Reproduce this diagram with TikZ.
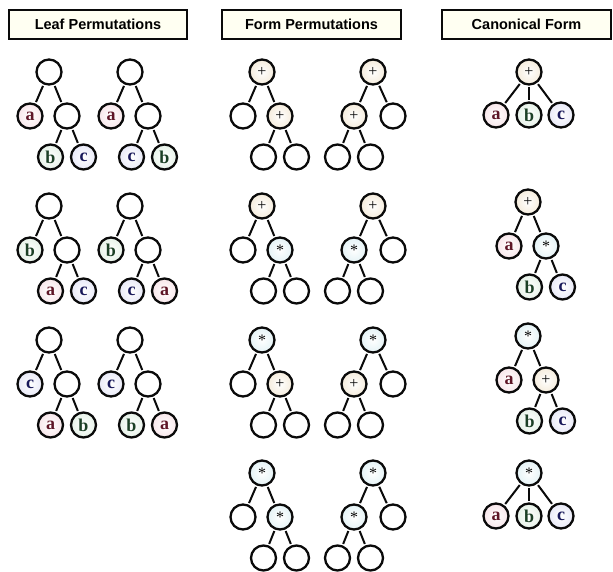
\documentclass[tikz,border=0pt]{standalone}
\usepackage{fontspec}
\setmainfont{Liberation Serif}
\newfontfamily\headfont{Liberation Sans}
\usetikzlibrary{calc}
\definecolor{ink}{HTML}{0A0A0A}
\definecolor{acol}{HTML}{5E1526}
\definecolor{bcol}{HTML}{1C4026}
\definecolor{ccol}{HTML}{18185A}
\definecolor{atint}{HTML}{F8E6EA}
\definecolor{btint}{HTML}{E6F2E8}
\definecolor{ctint}{HTML}{E8E9F8}
\definecolor{ptint}{HTML}{F5ECDC}
\definecolor{stint}{HTML}{E4F3F6}
\definecolor{headfill}{HTML}{FFFFF2}
\tikzset{
  header/.style={draw=ink, line width=2pt, fill=headfill, minimum height=29pt,
    inner sep=0pt, font=\headfont\bfseries\fontsize{14.5}{16}\selectfont},
  nd/.style={circle, draw=ink, line width=2.3pt, minimum size=25pt, inner sep=0pt,
    shading=radial, inner color=white},
  en/.style={nd, outer color=white, node contents={}},
  va/.style={nd, outer color=atint, text=acol, font=\bfseries\fontsize{18}{18}\selectfont, node contents=a},
  vb/.style={nd, outer color=btint, text=bcol, font=\bfseries\fontsize{18}{18}\selectfont, node contents=b},
  vc/.style={nd, outer color=ctint, text=ccol, font=\bfseries\fontsize{18}{18}\selectfont, node contents=c},
  op/.style={nd, outer color=ptint, text=ink, font=\fontsize{16}{16}\selectfont, node contents=+},
  os/.style={nd, outer color=stint, text=ink, font=\fontsize{16}{16}\selectfont, node contents=*},
  edge/.style={draw=ink, line width=2pt, shorten <=1.5pt, shorten >=1.5pt},
}
% binary tree whose right child branches: prefix, root x, root y, five node styles
\newcommand\TreeRight[8]{%
  \node (#1r) at (#2,#3) [#4];
  \node (#1l) at (#2-19,#3+44) [#5];
  \node (#1m) at (#2+18,#3+44) [#6];
  \node (#1p) at (#2+1.5,#3+85) [#7];
  \node (#1q) at (#2+34.5,#3+85) [#8];
  \draw[edge] (#1r) -- (#1l);
  \draw[edge] (#1r) -- (#1m);
  \draw[edge] (#1m) -- (#1p);
  \draw[edge] (#1m) -- (#1q);
}
% binary tree whose left child branches
\newcommand\TreeLeft[8]{%
  \node (#1r) at (#2,#3) [#4];
  \node (#1m) at (#2-19,#3+44) [#5];
  \node (#1l) at (#2+20,#3+44) [#6];
  \node (#1p) at (#2-35.5,#3+85) [#7];
  \node (#1q) at (#2-2.5,#3+85) [#8];
  \draw[edge] (#1r) -- (#1m);
  \draw[edge] (#1r) -- (#1l);
  \draw[edge] (#1m) -- (#1p);
  \draw[edge] (#1m) -- (#1q);
}
% flat tree with three children
\newcommand\TreeFlat[7]{%
  \node (#1r) at (#2,#3) [#4];
  \node (#1a) at (#2-33,#3+43) [#5];
  \node (#1b) at (#2,#3+43) [#6];
  \node (#1c) at (#2+32,#3+43) [#7];
  \draw[edge] (#1r) -- (#1a);
  \draw[edge] (#1r) -- (#1b);
  \draw[edge] (#1r) -- (#1c);
}
\begin{document}
\begin{tikzpicture}[x=1pt, y=-1pt]
  \useasboundingbox (0,0) rectangle (613,571);

  % column headers
  \node[header, minimum width=178pt] (hleaf) at (98,24.5) {Leaf Permutations};
  \node[header, minimum width=179pt] (hform) at (311.5,24.5) {Form Permutations};
  \node[header, minimum width=169pt] (hcanon) at (526.5,24.5) {Canonical Form};

  % leaf permutations
  \TreeRight{la}{49}{72}{en}{va}{en}{vb}{vc}
  \TreeRight{lb}{130}{72}{en}{va}{en}{vc}{vb}
  \TreeRight{lc}{49}{206}{en}{vb}{en}{va}{vc}
  \TreeRight{ld}{130}{206}{en}{vb}{en}{vc}{va}
  \TreeRight{le}{49}{340}{en}{vc}{en}{va}{vb}
  \TreeRight{lf}{130}{340}{en}{vc}{en}{vb}{va}

  % form permutations
  \TreeRight{fa}{262}{72}{op}{en}{op}{en}{en}
  \TreeLeft{fb}{373}{72}{op}{op}{en}{en}{en}
  \TreeRight{fc}{262}{206}{op}{en}{os}{en}{en}
  \TreeLeft{fd}{373}{206}{op}{os}{en}{en}{en}
  \TreeRight{fe}{262}{340}{os}{en}{op}{en}{en}
  \TreeLeft{ff}{373}{340}{os}{op}{en}{en}{en}
  \TreeRight{fg}{262}{473}{os}{en}{os}{en}{en}
  \TreeLeft{fh}{373}{473}{os}{os}{en}{en}{en}

  % canonical forms
  \TreeFlat{ca}{529}{72}{op}{va}{vb}{vc}
  \TreeRight{cb}{528}{202}{op}{va}{os}{vb}{vc}
  \TreeRight{cc}{528}{336}{os}{va}{op}{vb}{vc}
  \TreeFlat{cd}{529}{473}{os}{va}{vb}{vc}
\end{tikzpicture}
\end{document}
